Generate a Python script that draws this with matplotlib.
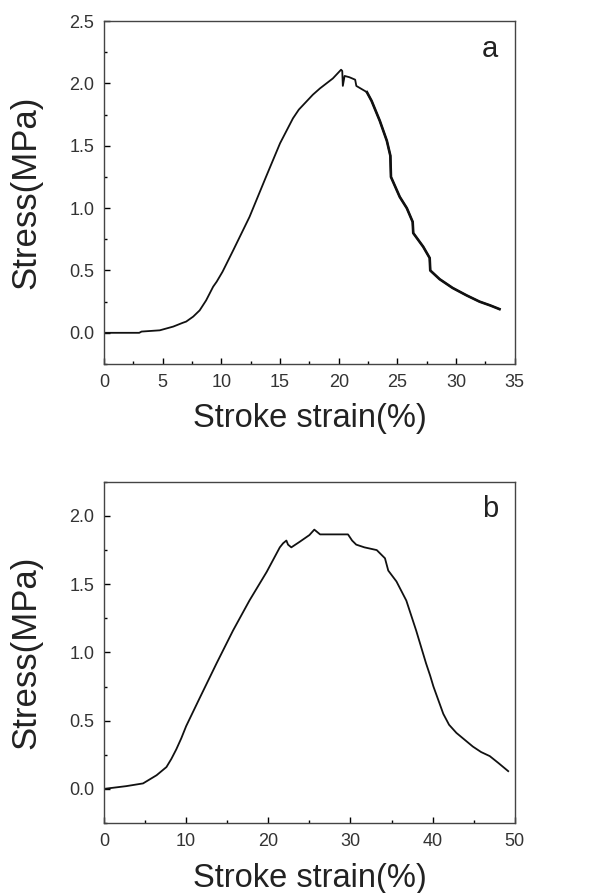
import matplotlib
matplotlib.use('Agg')
import matplotlib.pyplot as plt
import numpy as np

plt.rcParams['font.family'] = ['Liberation Sans', 'DejaVu Sans']

# panel a: stroke strain (%) vs stress (MPa)
strain_a = [0, 3.0, 3.2, 4.75, 5.9, 6.7, 7.0, 7.6, 8.15, 8.7, 9.3, 9.6, 10.1, 11.0, 12.4,
            13.8, 15.0, 16.1, 16.6, 17.2, 17.8, 18.4, 19.5, 20.2, 20.3, 20.35, 20.5, 20.9,
            21.4, 21.5, 22.4, 22.8, 23.5, 24.1, 24.4, 24.45, 25.2, 25.8, 26.3, 26.35, 27.2,
            27.75, 27.8, 28.6, 29.7, 30.9, 32.0, 32.9, 33.7]
stress_a = [0, 0, 0.01, 0.02, 0.05, 0.08, 0.09, 0.13, 0.18, 0.26, 0.37, 0.41, 0.49, 0.66, 0.93,
            1.25, 1.52, 1.72, 1.79, 1.85, 1.91, 1.96, 2.04, 2.11, 2.10, 1.98, 2.06, 2.05,
            2.03, 1.98, 1.93, 1.86, 1.70, 1.54, 1.42, 1.25, 1.09, 1.00, 0.89, 0.80, 0.69,
            0.60, 0.50, 0.43, 0.36, 0.30, 0.25, 0.22, 0.19]

# panel b
strain_b = [0, 2.7, 4.75, 6.4, 7.6, 8.2, 8.8, 9.4, 10.0, 11.6, 13.7, 15.7, 17.7, 19.8, 21.4,
            21.8, 22.2, 22.4, 22.8, 23.8, 25.0, 25.6, 26.3, 29.7, 30.2, 30.7, 31.7, 33.2,
            34.2, 34.6, 35.6, 36.8, 38.0, 38.6, 39.2, 39.7, 40.1, 40.7, 41.3, 42.0, 42.9,
            43.9, 44.9, 45.9, 46.96, 48.0, 49.2]
stress_b = [0, 0.02, 0.04, 0.10, 0.16, 0.22, 0.29, 0.37, 0.46, 0.66, 0.92, 1.16, 1.38, 1.59,
            1.77, 1.80, 1.82, 1.79, 1.77, 1.81, 1.86, 1.90, 1.865, 1.865, 1.82, 1.79, 1.77,
            1.75, 1.69, 1.60, 1.52, 1.38, 1.16, 1.04, 0.92, 0.83, 0.75, 0.65, 0.55, 0.47,
            0.41, 0.36, 0.31, 0.27, 0.24, 0.19, 0.13]

panels = [
    dict(x=strain_a, y=stress_a, xlim=(0, 35), ylim=(-0.25, 2.5), xt=np.arange(0, 36, 5),
         yt=np.arange(0, 2.51, 0.5), label='a', pos=[0.176, 0.5924, 0.695, 0.384], xpad=9),
    dict(x=strain_b, y=stress_b, xlim=(0, 50), ylim=(-0.25, 2.25), xt=np.arange(0, 51, 10),
         yt=np.arange(0, 2.01, 0.5), label='b', pos=[0.176, 0.0784, 0.695, 0.382], xpad=9.5),
]

fig = plt.figure(figsize=(5.91, 8.93), dpi=100)
for i, p in enumerate(panels):
    ax = fig.add_axes(p['pos'])
    ax.plot(p['x'], p['y'], color='#111111', lw=1.3)
    if i == 0:
        # the tail of curve a is noisier / thicker in the original
        x = np.array(p['x'])
        ax.plot(x[x >= 22.4], np.array(p['y'])[x >= 22.4], color='#111111', lw=1.9)
    ax.set_xlim(*p['xlim'])
    ax.set_ylim(*p['ylim'])
    ax.set_xticks(p['xt'])
    ax.set_yticks(p['yt'])
    ax.set_xticks((p['xt'][:-1] + p['xt'][1:]) / 2, minor=True)
    ax.set_yticks(np.arange(-0.25, p['ylim'][1] + 0.01, 0.5), minor=True)
    ax.set_yticklabels(['%.1f' % v for v in p['yt']])
    ax.tick_params(direction='in', length=4, width=1, labelsize=13, labelcolor='#333333', pad=7)
    ax.tick_params(which='minor', direction='in', length=2, width=1)
    for s in ax.spines.values():
        s.set_color('#444444')
        s.set_linewidth(1.0)
    ax.set_xlabel('Stroke strain(%)', fontsize=23.5, labelpad=p['xpad'], color='#222222')
    ax.set_ylabel('Stress(MPa)', fontsize=25, labelpad=19, color='#222222')
    ax.text(0.96, 0.92, p['label'], transform=ax.transAxes, ha='right', va='center',
            fontsize=21, color='#222222')

fig.savefig('out.png', dpi=100)
